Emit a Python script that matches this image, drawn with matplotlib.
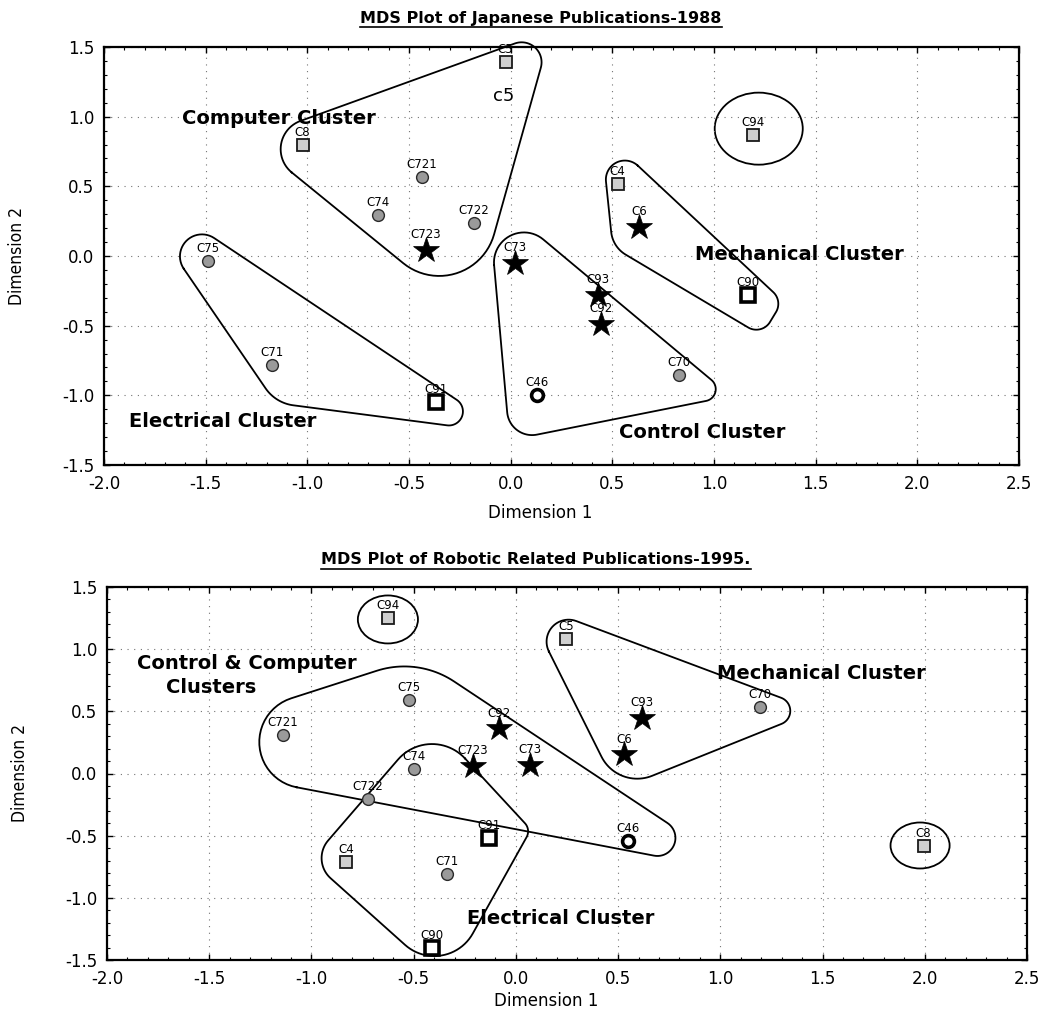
import numpy as np
import matplotlib
matplotlib.use("Agg")
import matplotlib.pyplot as plt
from matplotlib.patches import Ellipse
from matplotlib.lines import Line2D
from matplotlib.ticker import MultipleLocator

plt.rcParams['font.family'] = ['DejaVu Sans']
plt.rcParams['axes.unicode_minus'] = False

# ---- 1988 plot -------------------------------------------------------
names_88 = ['C5', 'C8', 'C721', 'C74', 'C722', 'C723', 'C75', 'C71', 'C91',
            'C73', 'C93', 'C92', 'C70', 'C46', 'C4', 'C6', 'C90', 'C94']
x_88 = [-0.025, -1.023, -0.438, -0.654, -0.182, -0.418, -1.49, -1.176, -0.369,
        0.02, 0.428, 0.443, 0.83, 0.128, 0.526, 0.63, 1.166, 1.19]
y_88 = [1.39, 0.796, 0.567, 0.294, 0.237, 0.043, -0.036, -0.783, -1.048,
        -0.05, -0.28, -0.49, -0.855, -1.0, 0.516, 0.207, -0.28, 0.868]
kind_88 = ['sq', 'sq', 'dot', 'dot', 'dot', 'star', 'dot', 'dot', 'box',
           'star', 'star', 'star', 'dot', 'ring', 'sq', 'star', 'box', 'sq']

# cluster outlines (corner points, data units)
comp88_x = [-1.279, 0.2, -0.197]
comp88_y = [0.84, 1.62, -0.445]
elec88_x = [-1.923, -0.02, -1.156]
elec88_y = [0.581, -1.271, -1.055]
ctrl88_x = [-0.113, 1.082, -0.005]
ctrl88_y = [0.452, -1.005, -1.321]
mech88_x = [0.443, 0.502, 1.235, 1.338]
mech88_y = [0.897, 0.065, -0.571, -0.323]
ring88_x, ring88_y = [1.22], [0.914]
ring88_w, ring88_h = [0.433], [0.517]

text88 = ['Computer Cluster', 'Electrical Cluster', 'Mechanical Cluster', 'Control Cluster']
text88_x = [-1.618, -1.879, 0.905, 0.531]
text88_y = [0.99, -1.185, 0.014, -1.27]

# ---- 1995 plot -------------------------------------------------------
names_95 = ['C94', 'C75', 'C721', 'C92', 'C5', 'C93', 'C6', 'C74', 'C723',
            'C73', 'C722', 'C91', 'C46', 'C4', 'C71', 'C90', 'C70', 'C8']
x_95 = [-0.626, -0.523, -1.14, -0.083, 0.245, 0.616, 0.528, -0.5, -0.21,
        0.068, -0.724, -0.132, 0.548, -0.832, -0.338, -0.411, 1.194, 1.994]
y_95 = [1.247, 0.595, 0.306, 0.362, 1.078, 0.45, 0.153, 0.04, 0.064,
        0.072, -0.209, -0.515, -0.539, -0.71, -0.805, -1.40, 0.531, -0.587]
kind_95 = ['sq', 'dot', 'dot', 'star', 'sq', 'star', 'star', 'dot', 'star',
           'star', 'dot', 'box', 'ring', 'sq', 'dot', 'box', 'dot', 'sq']

cc95_x = [-1.937, -0.479, 1.106]
cc95_y = [0.161, 0.933, -0.796]
elec95_x = [-0.416, -1.003, -0.342, 0.073]
elec95_y = [0.418, -0.7, -1.673, -0.451]
mech95_x = [0.039, 1.463, 0.499]
mech95_y = [1.384, 0.507, -0.129]
ring95_x, ring95_y = [-0.626, 1.977], [1.239, -0.579]
ring95_w, ring95_h = [0.294, 0.289], [0.386, 0.37]

text95 = ['Control & Computer', 'Clusters', 'Mechanical Cluster', 'Electrical Cluster']
text95_x = [-1.854, -1.712, 0.983, -0.24]
text95_y = [0.885, 0.692, 0.805, -1.167]

styles = {
    'sq': dict(marker='s', ms=8.5, mfc='#cfcfcf', mec='#1a1a1a', mew=1.3),
    'dot': dict(marker='o', ms=8.5, mfc='#9a9a9a', mec='#2a2a2a', mew=1.0),
    'star': dict(marker='*', ms=19, mfc='black', mec='black', mew=0.5),
    'box': dict(marker='s', ms=10, mfc='white', mec='black', mew=2.6),
    'ring': dict(marker='o', ms=8.5, mfc='white', mec='black', mew=2.6),
}


def rounded_outline(ax, xs, ys, radii):
    # polygon with filleted corners, radii in pixels
    pts = ax.transData.transform(np.column_stack([xs, ys]))
    n = len(pts)
    arcs = []
    for i in range(n):
        p0, p1, p2 = pts[i - 1], pts[i], pts[(i + 1) % n]
        u = (p0 - p1) / np.linalg.norm(p0 - p1)
        v = (p2 - p1) / np.linalg.norm(p2 - p1)
        ang = np.arccos(np.clip(u @ v, -1, 1))
        r = radii[i]
        a = p1 + u * r / np.tan(ang / 2)
        b = p1 + v * r / np.tan(ang / 2)
        bis = (u + v) / np.linalg.norm(u + v)
        c = p1 + bis * r / np.sin(ang / 2)
        t0 = np.arctan2(a[1] - c[1], a[0] - c[0])
        t1 = np.arctan2(b[1] - c[1], b[0] - c[0])
        dt = (t1 - t0 + np.pi) % (2 * np.pi) - np.pi
        ts = t0 + dt * np.linspace(0, 1, 25)
        arcs.append(c + r * np.column_stack([np.cos(ts), np.sin(ts)]))
    path = np.vstack(arcs + [arcs[0][:1]])
    d = ax.transData.inverted().transform(path)
    ax.plot(d[:, 0], d[:, 1], color='black', lw=1.3, clip_on=False, zorder=2)


def setup(ax, xlab_y):
    ax.set_xlim(-2.0, 2.5)
    ax.set_ylim(-1.5, 1.5)
    ax.xaxis.set_major_locator(MultipleLocator(0.5))
    ax.yaxis.set_major_locator(MultipleLocator(0.5))
    ax.xaxis.set_minor_locator(MultipleLocator(0.1))
    ax.yaxis.set_minor_locator(MultipleLocator(0.1))
    ax.xaxis.set_major_formatter(lambda v, p: f'{v:.1f}')
    ax.yaxis.set_major_formatter(lambda v, p: f'{v:.1f}')
    ax.grid(True, which='major', color='0.45', lw=0.8, linestyle=(0, (1, 5)))
    ax.tick_params(which='both', direction='in', top=True, right=True,
                   labeltop=False, labelright=False)
    ax.tick_params(which='major', length=4, width=1, labelsize=12, pad=7)
    ax.tick_params(which='minor', length=2.5, width=0.8)
    for s in ax.spines.values():
        s.set_linewidth(1.6)
    ax.set_xlabel('Dimension 1', fontsize=12)
    ax.xaxis.set_label_coords(0.477, xlab_y)
    ax.set_ylabel('Dimension 2', fontsize=12.5, family='DejaVu Sans',
                  fontstretch='condensed')
    ax.yaxis.set_label_coords(-0.085, 0.5)


def draw_points(ax, names, xs, ys, kinds):
    for nm, x, y, k in zip(names, xs, ys, kinds):
        ax.plot(x, y, linestyle='none', zorder=4, **styles[k])
        off = 11 if k == 'star' else 9
        ax.annotate(nm, (x, y), xytext=(0, off), textcoords='offset points',
                    ha='center', va='center', fontsize=8.5, zorder=5)


fig = plt.figure(figsize=(10.41, 10.11), dpi=100)
W, H = 1041, 1011
ax1 = fig.add_axes([104 / W, 1 - 465 / H, (1019 - 104) / W, (465 - 47) / H])
ax2 = fig.add_axes([107 / W, 1 - 960 / H, (1027 - 107) / W, (960 - 587) / H])
setup(ax1, -0.093)
setup(ax2, -0.087)

# top plot
draw_points(ax1, names_88, x_88, y_88, kind_88)
rounded_outline(ax1, comp88_x, comp88_y, [30, 20, 57])
rounded_outline(ax1, elec88_x, elec88_y, [22, 14, 40])
rounded_outline(ax1, ctrl88_x, ctrl88_y, [30, 12, 25])
rounded_outline(ax1, mech88_x, mech88_y, [19, 30, 16, 16])
for cx, cy, w, h in zip(ring88_x, ring88_y, ring88_w, ring88_h):
    ax1.add_patch(Ellipse((cx, cy), w, h, fill=False, ec='black', lw=1.3))
for t, tx, ty in zip(text88, text88_x, text88_y):
    ax1.text(tx, ty, t, fontsize=14, fontweight='bold', ha='left', va='center', zorder=6)
ax1.text(-0.089, 1.149, 'c5', fontsize=13, ha='left', va='center')

# bottom plot
draw_points(ax2, names_95, x_95, y_95, kind_95)
rounded_outline(ax2, cc95_x, cc95_y, [46, 90, 18])
rounded_outline(ax2, elec95_x, elec95_y, [45, 27, 44, 12])
rounded_outline(ax2, mech95_x, mech95_y, [22, 14, 40])
for cx, cy, w, h in zip(ring95_x, ring95_y, ring95_w, ring95_h):
    ax2.add_patch(Ellipse((cx, cy), w, h, fill=False, ec='black', lw=1.3))
for t, tx, ty in zip(text95, text95_x, text95_y):
    ax2.text(tx, ty, t, fontsize=14, fontweight='bold', ha='left', va='center', zorder=6)

# underlined titles
titles = [('MDS Plot of Japanese Publications-1988', 541, 18),
          ('MDS Plot of Robotic Related Publications-1995.', 536, 560)]
tarts = [fig.text(px / W, 1 - py / H, s, ha='center', va='center',
                  fontsize=11.5, fontweight='bold') for s, px, py in titles]
fig.canvas.draw()
for t in tarts:
    bb = t.get_window_extent()
    yl = (bb.y0 - 1) / H
    fig.add_artist(Line2D([bb.x0 / W, bb.x1 / W], [yl, yl], color='black', lw=1.2))

fig.savefig('out.png', dpi=100)
